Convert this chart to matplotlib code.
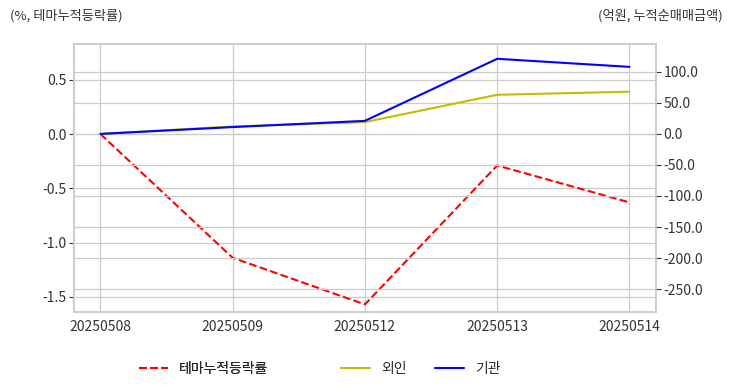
import matplotlib
matplotlib.use("Agg")
import matplotlib.pyplot as plt
import seaborn as sns
from matplotlib.ticker import FormatStrFormatter

# === Data ===
dates = ["20250508", "20250509", "20250512", "20250513", "20250514"]
theme_ret = [0.0, -1.14, -1.57, -0.29, -0.63]     # %, 테마누적등락률
foreign = [0.0, 12.0, 19.0, 63.0, 68.0]           # 억원, 외인 누적
institution = [0.0, 11.0, 21.0, 121.0, 108.0]     # 억원, 기관 누적

sns.set_style("whitegrid")
plt.rcParams['font.family'] = ['Noto Sans CJK KR', 'DejaVu Sans']
plt.rcParams['axes.unicode_minus'] = False

fig = plt.figure(figsize=(7.32, 3.92), dpi=100)
ax1 = fig.add_axes([0.101, 0.204, 0.795, 0.684])
ax2 = ax1.twinx()

x = list(range(len(dates)))
l1, = ax1.plot(x, theme_ret, '--', color='red', linewidth=1.5, label="테마누적등락률")
l2, = ax2.plot(x, foreign, '-', color='y', linewidth=1.5, label="외인")
l3, = ax2.plot(x, institution, '-', color='b', linewidth=1.5, label="기관")

ax1.set_xlim(-0.2, 4.2)
ax1.set_ylim(-1.64, 0.83)
ax2.set_ylim(-287, 145)
ax1.set_xticks(x)
ax1.set_xticklabels(dates)
ax1.set_yticks([-1.5, -1.0, -0.5, 0.0, 0.5])
ax2.set_yticks([-250, -200, -150, -100, -50, 0, 50, 100])
ax2.yaxis.set_major_formatter(FormatStrFormatter('%.1f'))

for ax in (ax1, ax2):
    ax.tick_params(labelsize=10, colors='#333333', pad=2)
    ax.grid(True, color='#cccccc', linewidth=0.9)
    for s in ax.spines.values():
        s.set_color('#cccccc')
        s.set_linewidth(1.2)
ax2.grid(True, axis='y')
ax2.xaxis.grid(False)

fig.text(0.013, 0.96, "(%, 테마누적등락률)", fontsize=9.5, color='#333333', ha='left', va='center')
fig.text(0.987, 0.96, "(억원, 누적순매매금액)", fontsize=9.5, color='#333333', ha='right', va='center')

# legend split in two groups to match spacing
leg_kw = dict(loc='center left', frameon=False, fontsize=10, handlelength=2.1,
              handletextpad=0.8, borderpad=0, borderaxespad=0, columnspacing=2.0)
leg1 = fig.legend([l1], ["테마누적등락률"], bbox_to_anchor=(139 / 732, 0.059), **leg_kw)
fig.add_artist(leg1)
fig.legend([l2, l3], ["외인", "기관"], ncol=2, bbox_to_anchor=(341 / 732, 0.059), **leg_kw)

fig.savefig("out.png", dpi=100)
